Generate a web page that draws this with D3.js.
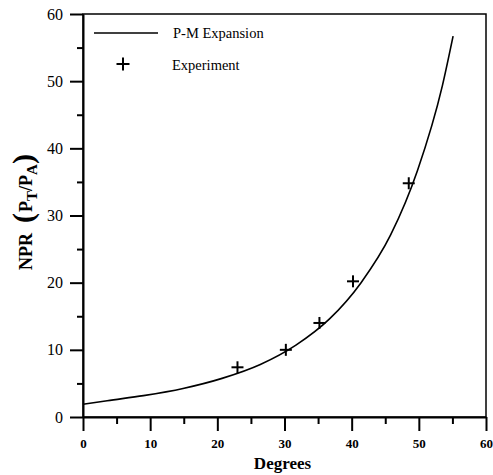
<!DOCTYPE html>
<html>
<head>
<meta charset="utf-8">
<script src="https://cdn.jsdelivr.net/npm/d3@7"></script>
<style>
body { margin: 0; background: #fff; }
.frame { fill: none; stroke: #000; stroke-width: 1.5px; }
.axis path, .axis line { stroke: #000; stroke-width: 2px; }
.curve { fill: none; stroke: #000; stroke-width: 1.6px; }
.marker { stroke: #000; stroke-width: 2px; }
</style>
</head>
<body>
<svg width="493" height="475"></svg>
<script>
//Data.
var curveDeg = [0, 3.6, 9.0, 14.9, 20.7, 26.4, 31.7, 36.7, 41.4, 45.8, 49.8, 53.5, 55.1];
var curveNpr = [1.89, 2.43, 3.18, 4.25, 5.75, 7.82, 10.7, 14.6, 20.0, 27.1, 36.7, 49.3, 56.7];
var expDeg = [23.0, 30.2, 35.2, 40.2, 48.5];
var expNpr = [7.4, 10.0, 14.0, 20.2, 34.8];
var xTicks = [0, 10, 20, 30, 40, 50, 60];
var yTicks = [0, 10, 20, 30, 40, 50, 60];
var legendLabels = ['P-M Expansion', 'Experiment'];

var serif = "'Liberation Serif', 'Times New Roman', serif";
var svg = d3.select('svg');
var margin = {top: 14, left: 83, right: 7, bottom: 58};
var width = 493 - margin.left - margin.right,
	height = 475 - margin.top - margin.bottom;
var inner = svg.append('g')
	.attr('transform', 'translate(' + margin.left + ',' + margin.top + ')');

var xScale = d3.scaleLinear().domain([0, 60]).range([0, width]);
var yScale = d3.scaleLinear().domain([0, 60]).range([height, 0]);

//Top and right frame.
inner.append('rect')
	.attr('class', 'frame')
	.attr('width', width)
	.attr('height', height);

//Minor ticks first, then the major axes on top.
inner.append('g')
	.attr('class', 'axis')
	.attr('transform', 'translate(0,' + height + ')')
	.call(d3.axisBottom(xScale).tickValues(d3.range(5, 60, 10)).tickSize(7).tickFormat(''))
	.select('.domain').remove();
inner.append('g')
	.attr('class', 'axis')
	.call(d3.axisLeft(yScale).tickValues(d3.range(5, 60, 10)).tickSize(6).tickFormat(''))
	.select('.domain').remove();

var xAxis = inner.append('g')
	.attr('class', 'axis')
	.attr('transform', 'translate(0,' + height + ')')
	.call(d3.axisBottom(xScale).tickValues(xTicks).tickSize(14).tickSizeOuter(0).tickPadding(8));
xAxis.selectAll('text')
	.style('font-family', serif)
	.style('fill', '#000')
	.style('font-size', '13px')
	.style('font-weight', 'bold');

var yAxis = inner.append('g')
	.attr('class', 'axis')
	.call(d3.axisLeft(yScale).tickValues(yTicks).tickSize(13).tickSizeOuter(0).tickPadding(7));
yAxis.selectAll('text')
	.style('font-family', serif)
	.style('fill', '#000')
	.style('font-size', '16px');

//Curve.
var line = d3.line()
	.x(function(d, i) { return xScale(curveDeg[i]); })
	.y(function(d) { return yScale(d); })
	.curve(d3.curveMonotoneX);
inner.append('path')
	.datum(curveNpr)
	.attr('class', 'curve')
	.attr('d', line);

//Experiment markers.
function plus(g, cx, cy, r) {
	g.append('line').attr('class', 'marker')
		.attr('x1', cx - r).attr('x2', cx + r).attr('y1', cy).attr('y2', cy);
	g.append('line').attr('class', 'marker')
		.attr('x1', cx).attr('x2', cx).attr('y1', cy - r).attr('y2', cy + r);
}
expNpr.forEach(function(d, i) {
	plus(inner, xScale(expDeg[i]), yScale(d), 6);
});

//Legend.
inner.append('line')
	.attr('x1', 11).attr('x2', 75)
	.attr('y1', 19).attr('y2', 19)
	.style('stroke', '#000').style('stroke-width', '1.6px');
inner.append('text')
	.attr('x', 90).attr('y', 24)
	.style('font-family', serif)
	.style('font-size', '14.5px')
	.text(legendLabels[0]);
plus(inner, 40, 50, 6.5);
inner.append('text')
	.attr('x', 89).attr('y', 56)
	.style('font-family', serif)
	.style('font-size', '14.5px')
	.text(legendLabels[1]);

//Axis titles.
svg.append('text')
	.attr('x', margin.left + width / 2 - 2)
	.attr('y', 469)
	.attr('text-anchor', 'middle')
	.style('font-family', serif)
	.style('font-size', '17px')
	.style('font-weight', 'bold')
	.text('Degrees');

var yt = svg.append('text')
	.attr('transform', 'translate(32,212) rotate(-90)')
	.attr('text-anchor', 'middle')
	.style('font-family', serif)
	.style('font-weight', 'bold')
	.style('font-size', '18px');
yt.append('tspan').text('NPR');
yt.append('tspan').style('font-size', '30px').attr('dx', 10).attr('dy', 1).text('(');
yt.append('tspan').attr('dy', -1).attr('dx', 1).text('P');
yt.append('tspan').style('font-size', '15px').attr('dy', 5).text('T');
yt.append('tspan').attr('dy', -5).text('/P');
yt.append('tspan').style('font-size', '15px').attr('dy', 5).text('A');
yt.append('tspan').style('font-size', '30px').attr('dy', -4).text(')');
</script>
</body>
</html>
